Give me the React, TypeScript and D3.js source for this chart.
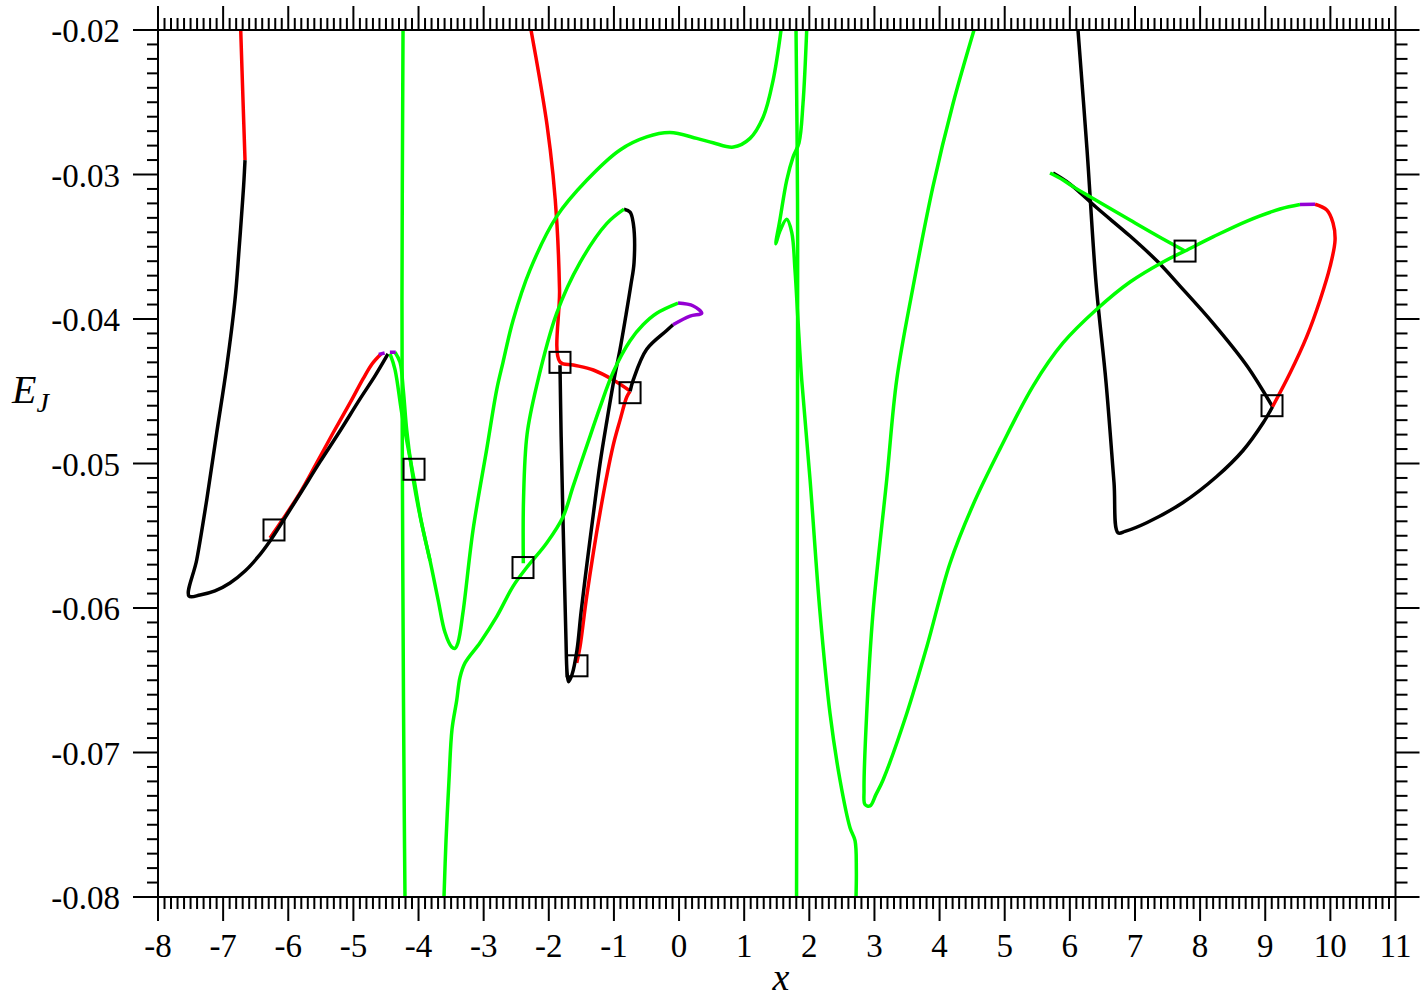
import { useEffect, useRef } from "react";
import * as d3 from "d3";

type Pt = [number, number];

// axis ticks
const xTickLabels = ["-8", "-7", "-6", "-5", "-4", "-3", "-2", "-1", "0", "1", "2", "3", "4", "5", "6", "7", "8", "9", "10", "11"];
const yTickLabels = ["-0.08", "-0.07", "-0.06", "-0.05", "-0.04", "-0.03", "-0.02"];

// left family (x ~ -7.5 .. -4.4)
const redTopLeft: Pt[] = [[-6.73, -0.02], [-6.695, -0.02484], [-6.664, -0.029]];
const blackLeftLoop: Pt[] = [
  [-6.664, -0.029], [-6.68, -0.03038], [-6.7, -0.03176], [-6.756, -0.03522], [-6.818, -0.03868],
  [-6.945, -0.0433], [-7.099, -0.04789], [-7.252, -0.05252], [-7.406, -0.05668], [-7.524, -0.05917],
  [-7.355, -0.0591], [-7.125, -0.05882], [-6.895, -0.05827], [-6.664, -0.05744], [-6.465, -0.05647],
  [-6.28, -0.05536], [-6.081, -0.05398], [-5.82, -0.05211], [-5.513, -0.04989], [-5.206, -0.04775],
  [-4.898, -0.04553], [-4.668, -0.04394], [-4.469, -0.04242],
];
const redLeftRise: Pt[] = [
  [-6.28, -0.05515], [-6.081, -0.05384], [-5.82, -0.05204], [-5.563, -0.04996], [-5.313, -0.04789],
  [-5.052, -0.04581], [-4.852, -0.04415], [-4.714, -0.04311], [-4.576, -0.04242],
];
const purpleLeftA: Pt[] = [[-4.61, -0.04245], [-4.52, -0.04235]];
const purpleLeftB: Pt[] = [[-4.44, -0.0423], [-4.35, -0.0423]];

// long green curve: peak -> dip near -3.5 -> wave -> top near 1.57
const greenLongWave: Pt[] = [
  [-4.438, -0.0424], [-4.361, -0.0435], [-4.258, -0.0465], [-4.161, -0.0489], [-4.069, -0.0511],
  [-3.962, -0.0539], [-3.824, -0.0567], [-3.701, -0.0594], [-3.593, -0.0617], [-3.491, -0.0627],
  [-3.44, -0.0628], [-3.394, -0.0624], [-3.317, -0.0603], [-3.163, -0.0546], [-2.949, -0.0489],
  [-2.8, -0.0449], [-2.703, -0.043], [-2.549, -0.0401], [-2.288, -0.0366], [-1.878, -0.0329],
  [-1.418, -0.0304], [-0.906, -0.0283], [-0.497, -0.0274], [-0.139, -0.0271], [0.271, -0.0275],
  [0.522, -0.0278], [0.834, -0.0281], [1.09, -0.0275], [1.294, -0.026], [1.443, -0.0235], [1.566, -0.02],
];
const greenPeakStrand: Pt[] = [
  [-4.361, -0.0423], [-4.284, -0.043], [-4.234, -0.0449], [-4.181, -0.0477], [-4.105, -0.0504],
  [-4.039, -0.0522], [-3.931, -0.0546], [-3.824, -0.0567],
];
const greenVertLeft: Pt[] = [[-4.238, -0.02], [-4.254, -0.0387], [-4.246, -0.0525], [-4.231, -0.0664], [-4.218, -0.0747], [-4.208, -0.08]];

// middle family (x ~ -3.6 .. 0.35)
const greenDiagonal: Pt[] = [
  [-3.609, -0.08], [-3.578, -0.0761], [-3.532, -0.0719], [-3.486, -0.0684], [-3.414, -0.0664],
  [-3.363, -0.0648], [-3.286, -0.0638], [-3.056, -0.0624], [-2.8, -0.0606], [-2.549, -0.0585],
  [-2.339, -0.0572], [-2.032, -0.0555], [-1.782, -0.0537], [-1.628, -0.0516], [-1.418, -0.0488],
  [-1.213, -0.0461], [-1.014, -0.0437], [-0.752, -0.0415], [-0.553, -0.0404], [-0.343, -0.0396], [-0.016, -0.0389],
];
const purpleHook: Pt[] = [[-0.016, -0.0389], [0.219, -0.0391], [0.348, -0.0396], [0.168, -0.0398], [-0.093, -0.0404]];
const blackHook: Pt[] = [[-0.093, -0.0404], [-0.19, -0.0408], [-0.497, -0.0421], [-0.702, -0.0442], [-0.752, -0.045]];
const redLowerMid: Pt[] = [
  [-0.752, -0.045], [-0.803, -0.0454], [-0.906, -0.047], [-1.014, -0.0488], [-1.213, -0.0534],
  [-1.418, -0.0592], [-1.521, -0.0627], [-1.571, -0.0638],
];
const redUpperMid: Pt[] = [
  [-2.273, -0.02], [-2.15, -0.02311], [-2.027, -0.02657], [-1.935, -0.03003], [-1.874, -0.03349],
  [-1.835, -0.03799], [-1.828, -0.04297], [-1.623, -0.04318], [-1.316, -0.04353], [-1.009, -0.04422], [-0.752, -0.04498],
];
const blackV: Pt[] = [
  [-1.828, -0.0432], [-1.812, -0.0477], [-1.789, -0.0525], [-1.759, -0.0581], [-1.736, -0.0622],
  [-1.72, -0.0644], [-1.697, -0.0651], [-1.643, -0.0646], [-1.567, -0.0629], [-1.505, -0.0603],
  [-1.413, -0.0569], [-1.313, -0.0534], [-1.213, -0.05], [-1.106, -0.047], [-0.999, -0.0442],
  [-0.906, -0.0421], [-0.814, -0.0397], [-0.738, -0.0376], [-0.691, -0.0361], [-0.702, -0.0334],
  [-0.752, -0.0326], [-0.845, -0.0324],
];
const greenInnerArc: Pt[] = [
  [-0.845, -0.0324], [-1.111, -0.0334], [-1.521, -0.0361], [-1.878, -0.0396], [-2.185, -0.0446],
  [-2.334, -0.048], [-2.388, -0.0525], [-2.391, -0.0569],
];

// right family (x ~ 1.5 .. 10)
const greenVertRight: Pt[] = [[1.796, -0.02], [1.819, -0.0318], [1.819, -0.0456], [1.804, -0.08]];
const greenKink: Pt[] = [
  [1.96, -0.02], [1.903, -0.0251], [1.842, -0.0278], [1.75, -0.0288], [1.653, -0.0304], [1.55, -0.0331],
  [1.485, -0.0348], [1.55, -0.0339], [1.653, -0.0331], [1.73, -0.034], [1.78, -0.0366], [1.826, -0.0401],
  [1.883, -0.0442], [2.011, -0.0511], [2.164, -0.0603], [2.318, -0.0673], [2.471, -0.0719],
  [2.625, -0.0752], [2.702, -0.0761], [2.722, -0.0781], [2.717, -0.08],
];
const greenBigLoop: Pt[] = [
  [4.529, -0.02], [4.206, -0.0251], [3.9, -0.0308], [3.592, -0.0378], [3.342, -0.0442], [3.189, -0.0511],
  [2.978, -0.0603], [2.881, -0.0673], [2.84, -0.0726], [2.855, -0.0736], [2.932, -0.0737], [3.024, -0.0729],
  [3.132, -0.0719], [3.496, -0.0673], [3.803, -0.0627], [4.16, -0.0569], [4.513, -0.05287], [4.928, -0.04899],
  [5.435, -0.04464], [5.895, -0.04166], [6.417, -0.03931], [6.924, -0.03744], [7.431, -0.03605], [7.769, -0.03529],
  [8.198, -0.03432], [8.721, -0.03322], [9.227, -0.03239], [9.534, -0.03208],
];
const purpleRight: Pt[] = [[9.534, -0.03208], [9.765, -0.03206]];
const redRight: Pt[] = [
  [9.765, -0.03206], [9.945, -0.03246], [10.041, -0.03336], [10.072, -0.03453], [9.995, -0.03638],
  [9.842, -0.03868], [9.637, -0.04122], [9.381, -0.04374], [9.112, -0.04607],
];
const blackRightArc: Pt[] = [
  [9.112, -0.04607], [8.966, -0.0472], [8.659, -0.0491], [8.255, -0.0509], [7.738, -0.0527], [7.18, -0.0541],
  [6.847, -0.0547], [6.74, -0.0548], [6.678, -0.0513], [6.556, -0.0444], [6.402, -0.0375], [6.264, -0.0283], [6.125, -0.02],
];
const blackRightDiag: Pt[] = [
  [5.742, -0.0299], [6.003, -0.03066], [6.417, -0.03232], [6.924, -0.03426], [7.339, -0.03599],
  [7.692, -0.03772], [8.198, -0.04028], [8.721, -0.04325], [9.112, -0.04607],
];
const greenRightDiag: Pt[] = [
  [5.696, -0.0299], [5.895, -0.03038], [6.049, -0.03084], [6.31, -0.03154], [6.924, -0.03315], [7.431, -0.03446], [7.769, -0.03529],
];

// square markers
const markers: Pt[] = [
  [-6.219, -0.0546], [-4.069, -0.0504], [-2.396, -0.0572], [-1.828, -0.043],
  [-0.752, -0.0451], [-1.567, -0.064], [7.769, -0.0353], [9.104, -0.046],
];

const RED = "#ff0000";
const GREEN = "#00ff00";
const BLACK = "#000000";
const PURPLE = "#9400d3";

const curves: { pts: Pt[]; color: string }[] = [
  { pts: redTopLeft, color: RED },
  { pts: redLeftRise, color: RED },
  { pts: blackLeftLoop, color: BLACK },
  { pts: redUpperMid, color: RED },
  { pts: redLowerMid, color: RED },
  { pts: blackV, color: BLACK },
  { pts: blackHook, color: BLACK },
  { pts: blackRightArc, color: BLACK },
  { pts: blackRightDiag, color: BLACK },
  { pts: redRight, color: RED },
  { pts: greenVertLeft, color: GREEN },
  { pts: greenLongWave, color: GREEN },
  { pts: greenPeakStrand, color: GREEN },
  { pts: greenDiagonal, color: GREEN },
  { pts: greenInnerArc, color: GREEN },
  { pts: greenVertRight, color: GREEN },
  { pts: greenKink, color: GREEN },
  { pts: greenBigLoop, color: GREEN },
  { pts: greenRightDiag, color: GREEN },
  { pts: purpleLeftA, color: PURPLE },
  { pts: purpleLeftB, color: PURPLE },
  { pts: purpleHook, color: PURPLE },
  { pts: purpleRight, color: PURPLE },
];

const FONT = "'Liberation Serif', 'Times New Roman', serif";

export default function App() {
  const ref = useRef<SVGSVGElement>(null);

  useEffect(() => {
    if (!ref.current) return;
    const width = 1428,
      height = 1000;
    const plot = { left: 158, right: 1395.5, top: 30, bottom: 897 };

    const svg = d3.select(ref.current);
    svg.selectAll("*").remove();
    svg.attr("width", width).attr("height", height);

    const x = d3.scaleLinear().domain([-8, 11]).range([plot.left, plot.right]);
    const y = d3.scaleLinear().domain([-0.08, -0.02]).range([plot.bottom, plot.top]);

    svg
      .append("defs")
      .append("clipPath")
      .attr("id", "plotClip")
      .append("rect")
      .attr("x", plot.left)
      .attr("y", plot.top)
      .attr("width", plot.right - plot.left)
      .attr("height", plot.bottom - plot.top);

    // curves
    const line = d3
      .line<Pt>()
      .x((d) => x(d[0]))
      .y((d) => y(d[1]))
      .curve(d3.curveCatmullRom.alpha(0.5));

    const g = svg.append("g").attr("clip-path", "url(#plotClip)");
    g.selectAll("path.curve")
      .data(curves)
      .enter()
      .append("path")
      .attr("class", "curve")
      .attr("d", (d) => line(d.pts))
      .attr("fill", "none")
      .attr("stroke", (d) => d.color)
      .attr("stroke-width", 3.5)
      .attr("stroke-linejoin", "round")
      .attr("stroke-linecap", "butt");

    // square markers
    const sq = 21;
    g.selectAll("rect.marker")
      .data(markers)
      .enter()
      .append("rect")
      .attr("class", "marker")
      .attr("x", (d) => x(d[0]) - sq / 2)
      .attr("y", (d) => y(d[1]) - sq / 2)
      .attr("width", sq)
      .attr("height", sq)
      .attr("fill", "none")
      .attr("stroke", "#000")
      .attr("stroke-width", 2);

    // frame
    svg
      .append("rect")
      .attr("x", plot.left)
      .attr("y", plot.top)
      .attr("width", plot.right - plot.left)
      .attr("height", plot.bottom - plot.top)
      .attr("fill", "none")
      .attr("stroke", "#000")
      .attr("stroke-width", 2);

    // ticks (outward on all four sides)
    const ticks = svg.append("g").attr("stroke", "#000").attr("stroke-width", 2);
    const xMinor = d3.range(-80, 111).map((i) => i / 10);
    xMinor.forEach((v) => {
      const major = Math.abs(v - Math.round(v)) < 1e-6;
      const len = major ? 24 : 12;
      ticks.append("line").attr("x1", x(v)).attr("x2", x(v)).attr("y1", plot.bottom).attr("y2", plot.bottom + len);
      ticks.append("line").attr("x1", x(v)).attr("x2", x(v)).attr("y1", plot.top).attr("y2", plot.top - len);
    });
    const yMinor = d3.range(-80, -19).map((i) => i / 1000);
    yMinor.forEach((v, i) => {
      const major = i % 10 === 0;
      ticks.append("line").attr("y1", y(v)).attr("y2", y(v)).attr("x1", plot.left).attr("x2", plot.left - (major ? 25 : 11));
      ticks.append("line").attr("y1", y(v)).attr("y2", y(v)).attr("x1", plot.right).attr("x2", plot.right + (major ? 24 : 12));
    });

    // tick labels
    svg
      .append("g")
      .selectAll("text")
      .data(xTickLabels)
      .enter()
      .append("text")
      .attr("x", (d) => x(+d))
      .attr("y", 957)
      .attr("text-anchor", "middle")
      .style("font-family", FONT)
      .style("font-size", "33px")
      .text((d) => d);

    svg
      .append("g")
      .selectAll("text")
      .data(yTickLabels)
      .enter()
      .append("text")
      .attr("x", 120)
      .attr("y", (d) => y(+d) + 12)
      .attr("text-anchor", "end")
      .style("font-family", FONT)
      .style("font-size", "33px")
      .text((d) => d);

    // axis titles
    svg
      .append("text")
      .attr("x", 781)
      .attr("y", 990)
      .attr("text-anchor", "middle")
      .style("font-family", FONT)
      .style("font-style", "italic")
      .style("font-size", "38px")
      .text("x");

    const ej = svg
      .append("text")
      .attr("x", 12)
      .attr("y", 403)
      .style("font-family", FONT)
      .style("font-style", "italic")
      .style("font-size", "40px");
    ej.append("tspan").text("E");
    ej.append("tspan").attr("dy", 9).style("font-size", "28px").text("J");
  }, []);

  return (
    <svg
      ref={ref}
      style={{ position: "absolute", left: 0, top: 0, background: "#fff" }}
    />
  );
}
